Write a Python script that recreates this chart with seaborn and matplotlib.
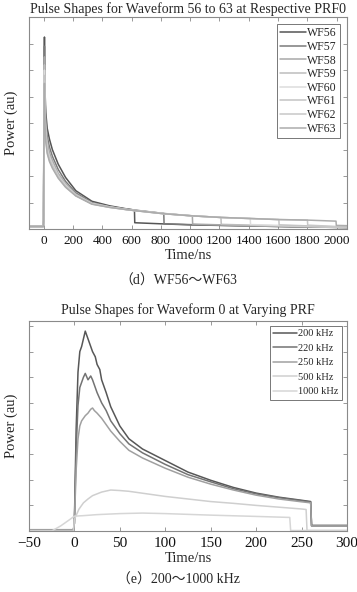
import matplotlib
matplotlib.use("Agg")
import matplotlib.pyplot as plt
import seaborn as sns

sns.set_style("ticks")
plt.rcParams['font.family'] = ['Liberation Serif', 'Noto Sans CJK SC', 'DejaVu Sans']
plt.rcParams['axes.unicode_minus'] = True

# ---- (d) WF56~WF63 : time (ns) / power (au) ----
wf_labels = ["WF56", "WF57", "WF58", "WF59", "WF60", "WF61", "WF62", "WF63"]
wf_colors = ["#555555", "#7a7a7a", "#a8a8a8", "#bdbdbd", "#dcdcdc", "#c4c4c4", "#c8c8c8", "#acacac"]

wf56_t = [-100, -2, 0, 3, 6, 10, 15, 25, 40, 60, 100, 150, 220, 330, 450, 560, 620, 622, 800, 1000, 1400, 1800, 2070]
wf56_p = [0.1, 0.1, 0.3, 5.6, 7.25, 5.2, 4.4, 3.8, 3.4, 3.0, 2.45, 1.95, 1.45, 1.05, 0.88, 0.77, 0.72, 0.24, 0.2, 0.16, 0.12, 0.08, 0.06]
wf57_t = [-100, -2, 0, 3, 6, 10, 15, 25, 40, 60, 100, 150, 220, 330, 450, 560, 620, 820, 822, 1000, 1400, 1800, 2070]
wf57_p = [0.1, 0.1, 0.3, 5.3, 6.9, 4.9, 4.1, 3.5, 3.1, 2.75, 2.25, 1.8, 1.37, 1.0, 0.85, 0.76, 0.72, 0.59, 0.2, 0.17, 0.12, 0.08, 0.06]
wf58_t = [-100, -2, 0, 3, 6, 10, 15, 25, 40, 60, 100, 150, 220, 330, 450, 560, 620, 820, 1015, 1017, 1400, 1800, 2070]
wf58_p = [0.1, 0.1, 0.3, 5.0, 6.5, 4.6, 3.9, 3.3, 2.9, 2.6, 2.1, 1.72, 1.32, 0.98, 0.84, 0.75, 0.71, 0.59, 0.5, 0.19, 0.13, 0.09, 0.06]
wf59_t = [-100, -2, 0, 3, 6, 10, 15, 25, 40, 60, 100, 150, 220, 330, 450, 560, 620, 820, 1015, 1210, 1212, 1800, 2070]
wf59_p = [0.1, 0.1, 0.3, 4.8, 6.2, 4.4, 3.7, 3.1, 2.75, 2.5, 2.05, 1.68, 1.3, 0.97, 0.84, 0.75, 0.71, 0.59, 0.5, 0.44, 0.18, 0.09, 0.06]
wf60_t = [-100, -2, 0, 3, 6, 10, 15, 25, 40, 60, 100, 150, 220, 330, 450, 560, 620, 820, 1015, 1210, 1410, 1412, 2070]
wf60_p = [0.1, 0.1, 0.3, 4.6, 6.0, 4.2, 3.6, 3.0, 2.7, 2.45, 2.0, 1.65, 1.28, 0.96, 0.83, 0.74, 0.7, 0.58, 0.5, 0.44, 0.4, 0.17, 0.07]
wf61_t = [-100, -2, 0, 3, 6, 10, 15, 25, 40, 60, 100, 150, 220, 330, 450, 560, 620, 820, 1015, 1210, 1410, 1605, 1607, 2070]
wf61_p = [0.1, 0.1, 0.3, 4.5, 5.8, 4.1, 3.5, 2.95, 2.65, 2.4, 1.98, 1.62, 1.27, 0.95, 0.83, 0.74, 0.7, 0.58, 0.5, 0.44, 0.4, 0.36, 0.16, 0.07]
wf62_t = [-100, -2, 0, 3, 6, 10, 15, 25, 40, 60, 100, 150, 220, 330, 450, 560, 620, 820, 1015, 1210, 1410, 1605, 1800, 1802, 2070]
wf62_p = [0.1, 0.1, 0.3, 4.4, 5.6, 4.0, 3.4, 2.9, 2.6, 2.35, 1.95, 1.6, 1.26, 0.95, 0.82, 0.74, 0.7, 0.58, 0.5, 0.44, 0.4, 0.36, 0.34, 0.15, 0.08]
wf63_t = [-100, -2, 0, 3, 6, 10, 15, 25, 40, 60, 100, 150, 220, 330, 450, 560, 620, 820, 1015, 1210, 1410, 1605, 1800, 1995, 1997, 2070]
wf63_p = [0.1, 0.1, 0.3, 4.3, 5.5, 3.9, 3.3, 2.85, 2.55, 2.3, 1.92, 1.58, 1.25, 0.94, 0.82, 0.74, 0.7, 0.58, 0.5, 0.44, 0.4, 0.36, 0.34, 0.3, 0.14, 0.13]

wf_t = [wf56_t, wf57_t, wf58_t, wf59_t, wf60_t, wf61_t, wf62_t, wf63_t]
wf_p = [wf56_p, wf57_p, wf58_p, wf59_p, wf60_p, wf61_p, wf62_p, wf63_p]

# ---- (e) 200~1000 kHz ----
prf_labels = ["200 kHz", "220 kHz", "250 kHz", "500 kHz", "1000 kHz"]
prf_colors = ["#575757", "#737373", "#a0a0a0", "#cfcfcf", "#d6d6d6"]

k200_t = [-50, -1, 0, 2, 4, 6, 8, 10, 12, 14, 17, 20, 23, 25, 28, 30, 35, 40, 50, 60, 75, 100, 125, 150, 175, 200, 225, 250, 260, 261, 300]
k200_p = [0.05, 0.05, 0.3, 4.0, 6.2, 7.0, 7.2, 7.5, 7.8, 7.6, 7.3, 7.0, 6.8, 6.5, 6.3, 5.9, 5.4, 4.85, 4.1, 3.6, 3.2, 2.75, 2.3, 1.98, 1.7, 1.48, 1.32, 1.2, 1.15, 0.22, 0.22]
k220_t = [-50, -1, 0, 2, 4, 6, 8, 10, 12, 15, 18, 20, 25, 30, 35, 40, 50, 60, 75, 100, 125, 150, 175, 200, 225, 250, 260, 261, 300]
k220_p = [0.05, 0.05, 0.3, 3.2, 4.9, 5.6, 5.8, 6.0, 6.15, 5.9, 6.05, 5.9, 5.4, 5.0, 4.7, 4.3, 3.8, 3.4, 3.05, 2.6, 2.2, 1.92, 1.65, 1.45, 1.3, 1.18, 1.13, 0.2, 0.2]
k250_t = [-50, -1, 0, 2, 4, 6, 8, 10, 12, 15, 18, 20, 22, 25, 30, 40, 50, 60, 75, 100, 125, 150, 175, 200, 225, 250, 260, 261, 300]
k250_p = [0.05, 0.05, 0.3, 2.4, 3.6, 4.1, 4.3, 4.4, 4.5, 4.6, 4.75, 4.8, 4.7, 4.6, 4.4, 3.9, 3.5, 3.15, 2.85, 2.45, 2.1, 1.83, 1.6, 1.4, 1.25, 1.14, 1.1, 0.2, 0.2]
k500_t = [-50, -1, 0, 5, 10, 15, 20, 30, 40, 50, 60, 80, 100, 125, 150, 175, 200, 225, 250, 255, 256, 300]
k500_p = [0.0, 0.0, 0.45, 0.85, 1.1, 1.25, 1.38, 1.52, 1.6, 1.58, 1.55, 1.45, 1.35, 1.25, 1.15, 1.08, 1.0, 0.93, 0.86, 0.84, 0.02, 0.02]
k1000_t = [-50, -25, -15, -5, 0, 10, 25, 50, 75, 100, 150, 200, 237, 238, 300]
k1000_p = [0.0, 0.0, 0.2, 0.45, 0.58, 0.6, 0.64, 0.68, 0.7, 0.68, 0.62, 0.57, 0.53, 0.02, 0.02]

prf_t = [k200_t, k220_t, k250_t, k500_t, k1000_t]
prf_p = [k200_p, k220_p, k250_p, k500_p, k1000_p]

fig = plt.figure(figsize=(3.57, 5.92), dpi=100)
ax1 = fig.add_axes([0.081, 0.613, 0.891, 0.358])
ax2 = fig.add_axes([0.081, 0.103, 0.891, 0.355])

for t, p, lab, col in zip(wf_t, wf_p, wf_labels, wf_colors):
    sns.lineplot(x=t, y=p, ax=ax1, color=col, label=lab, lw=1.1, estimator=None, sort=False)
for t, p, lab, col in zip(prf_t, prf_p, prf_labels, prf_colors):
    sns.lineplot(x=t, y=p, ax=ax2, color=col, label=lab, lw=1.1, estimator=None, sort=False)

ax1.set_xlim(-100, 2070)
ax1.set_ylim(0, 8)
ax1.set_xticks(range(0, 2001, 200))
ax1.set_yticks(range(0, 8))
ax1.set_title("Pulse Shapes for Waveform 56 to 63 at Respective PRF0", fontsize=10, pad=3)

ax2.set_xlim(-50, 300)
ax2.set_ylim(0, 8.2)
ax2.set_xticks(range(-50, 301, 50))
ax2.set_yticks(range(0, 9))
ax2.set_title("Pulse Shapes for Waveform 0 at Varying PRF", fontsize=10, pad=5)

for ax, fs in [(ax1, 9.5), (ax2, 11)]:
    ax.set_yticklabels([])
    ax.set_xlabel("Time/ns", fontsize=10.5, labelpad=2)
    ax.set_ylabel("Power (au)", fontsize=10.5)
    ax.yaxis.set_label_coords(-0.035, 0.5)
    ax.tick_params(direction="in", length=3, width=0.6, colors="#888888",
                   labelcolor="#111111", labelsize=fs, top=True, right=True, pad=4)
    for s in ax.spines.values():
        s.set_color("#8a8a8a")
        s.set_linewidth(0.8)

leg1 = ax1.legend(loc="upper right", fontsize=8.5, frameon=True, fancybox=False,
                  edgecolor="#555555", handlelength=2.2, handletextpad=0.1,
                  labelspacing=0.14, borderpad=0.25, borderaxespad=0.6)
leg1.get_frame().set_linewidth(0.7)
leg2 = ax2.legend(loc="upper right", fontsize=7.5, frameon=True, fancybox=False,
                  edgecolor="#555555", handlelength=2.3, handletextpad=0.1,
                  labelspacing=0.5, borderpad=0.3, borderaxespad=0.5)
leg2.get_frame().set_linewidth(0.7)

fig.text(0.5, 1 - 281 / 592, "（d）WF56～WF63", ha="center", va="center", fontsize=10)
fig.text(0.5, 1 - 580 / 592, "（e）200～1000 kHz", ha="center", va="center", fontsize=10)

fig.savefig("out.png", dpi=100)
